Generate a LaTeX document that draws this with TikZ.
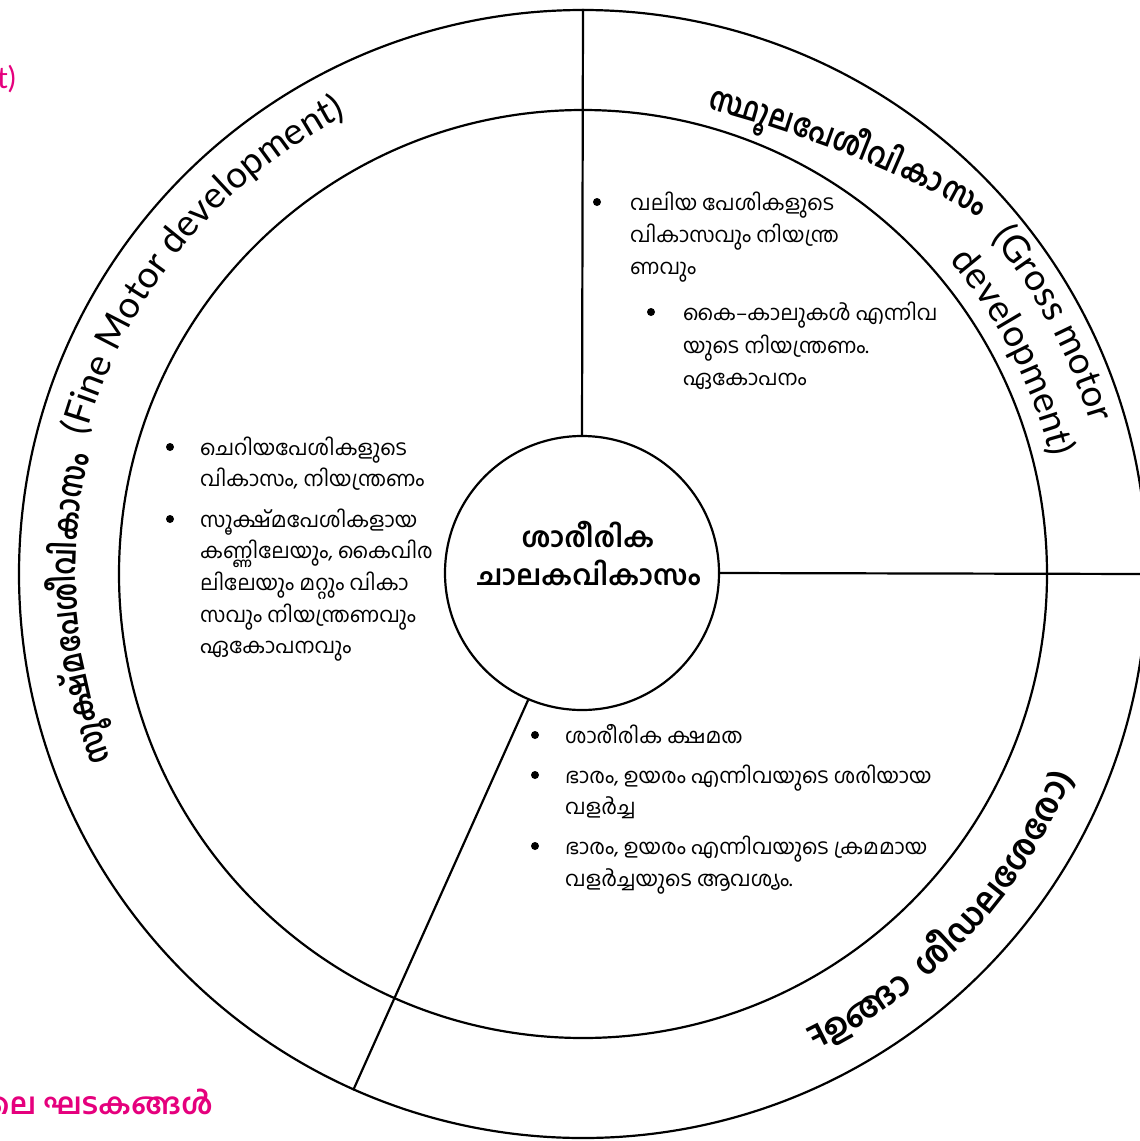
\documentclass[tikz,border=0pt]{standalone}
\usepackage{graphicx}
\usepackage{fontspec}
\setmainfont{Lato}
\newfontfamily\ml[Script=Malayalam]{Hind Kochi}
\newfontfamily\en{Lato}
\definecolor{pinkc}{HTML}{E5007D}
\newdimen\chw
\newbox\chbox
\newcount\acn
\newcount\acg
\usetikzlibrary{calc}
% #1 radius, #2 start angle, #3 dir (+1 ccw, -1 cw), #4 font, #5 name prefix, #6 x-scale, #7 radial drift (pt per deg^2)
\newcommand\ArcSet[7]{%
  \pgfmathsetmacro\arcstart{#2}%
  \xdef\arcstart{\arcstart}%
  \xdef\arcang{\arcstart}%
  \gdef\curR{#1}\gdef\curD{#3}\gdef\curF{#4}\gdef\curN{#5}\gdef\curS{#6}\gdef\curG{#7}\global\acn=0
}
% measuring pass (outside the picture)
\newcommand\ACm[1]{%
  \global\advance\acg by 1
  \setbox\chbox\hbox{\scalebox{\curS}[1]{\curF #1}}%
  \expandafter\xdef\csname acw\the\acg\endcsname{\the\wd\chbox}%
}
% drawing pass (inside the picture)
\newcommand\ACd[1]{%
  \global\advance\acg by 1
  \global\advance\acn by 1
  \global\chw=\csname acw\the\acg\endcsname\relax
  \pgfmathsetmacro\dd{abs(\arcang-\arcstart)}%
  \pgfmathsetmacro\rr{\curR+\curG*\dd*\dd}%
  \pgfmathsetmacro\halfa{\chw/(2*\rr)*180/pi}%
  \pgfmathsetmacro\mida{\arcang+(\curD)*\halfa}%
  \pgfmathsetmacro\dd{abs(\mida-\arcstart)}%
  \pgfmathsetmacro\rr{\curR+\curG*\dd*\dd}%
  \pgfmathsetmacro\ss{2*\curG*\dd*180/pi}%
  \pgfmathsetmacro\rot{\mida+(\curD)*(90-atan(\ss/\rr))}%
  \node[anchor=base,inner sep=0pt,rotate=\rot] (\curN-\the\acn) at ($(C)+(\mida:\rr)$) {\scalebox{\curS}[1]{\curF #1}};
  \pgfmathsetmacro\nexta{\arcang+(\curD)*2*\halfa}%
  \xdef\arcang{\nexta}%
}
\newcommand\AllArcs{%
  \ArcSet{482}{75}{-1}{\ml\bfseries\fontsize{33}{40}\selectfont}{th}{0.82}{0.047}%
  \AC{സ്ഥൂ}\AC{ല}\AC{പേ}\AC{ശീ}\AC{വി}\AC{കാ}\AC{സം}%
  \ArcSet{529}{39.5}{-1}{\en\fontsize{37}{44}\selectfont}{tg}{1}{0}%
  \AC{(}\AC{G}\AC{r}\AC{o}\AC{s}\AC{s}\AC{~}\AC{m}\AC{o}\AC{t}\AC{o}\AC{r}%
  \ArcSet{482}{40.5}{-1}{\en\fontsize{37}{44}\selectfont}{td}{1}{0}%
  \AC{d}\AC{e}\AC{v}\AC{e}\AC{l}\AC{o}\AC{p}\AC{m}\AC{e}\AC{n}\AC{t}\AC{)}%
  \ArcSet{507}{201.5}{-1}{\ml\bfseries\fontsize{33}{40}\selectfont}{lm}{0.8}{0}%
  \AC{സൂ}\AC{ക്ഷ്മ}\AC{പേ}\AC{ശീ}\AC{വി}\AC{കാ}\AC{സം}%
  \ArcSet{516}{164.5}{-1}{\en\fontsize{37}{44}\selectfont}{le}{1}{0}%
  \AC{(}\AC{F}\AC{i}\AC{n}\AC{e}\AC{~}\AC{M}\AC{o}\AC{t}\AC{o}\AC{r}\AC{~}\AC{d}\AC{e}\AC{v}\AC{e}\AC{l}\AC{o}\AC{p}\AC{m}\AC{e}\AC{n}\AC{t}\AC{)}%
  \ArcSet{530}{-64}{1}{\ml\bfseries\fontsize{34}{40}\selectfont}{br}{1}{0}%
  \AC{\reflectbox{F}}\AC{ഉ}\AC{ങ്ങാ}\AC{~}\AC{~}\AC{ശീ}\AC{ഡ}\AC{ല}\AC{ശേ}\AC{രോ}\AC{)}%
}
\tikzset{
  body/.style={anchor=base west,inner sep=0pt,font=\ml\fontsize{21}{30}\selectfont},
  bul/.style={circle,fill=black,inner sep=0pt,minimum size=8pt},
  ring/.style={circle,draw=black,line width=2.2pt,inner sep=0pt},
  ctr/.style={anchor=base,inner sep=0pt,font=\ml\bfseries\fontsize{28}{34}\selectfont},
}
\newcommand\Lx[4]{\node[body] (#1) at (#2,{-(#3)-8}) {#4};}
\begin{document}
\global\acg=0 \let\AC\ACm \AllArcs
\global\acg=0 \let\AC\ACd
\begin{tikzpicture}[x=1pt,y=1pt]
\useasboundingbox (0,0) rectangle (1140,-1141);
\clip (0,0) rectangle (1140,-1141);
\coordinate (C) at (583,-574);
\node[ring,minimum size=1128pt] (outer) at (C) {};
\node[ring,minimum size=928pt] (inner) at (C) {};
\node[ring,minimum size=274pt] (sc) at (582,-573) {};
\draw[line width=2.2pt] (sc.north) -- (outer.north);
\draw[line width=2.2pt] (sc.east) -- (outer.east);
\draw[line width=2.2pt] (sc.247) -- (outer.246.3);
% centre
\node[ctr] (c1) at (588,-547) {ശാരീരിക};
\node[ctr] (c2) at (589,-585) {ചാലകവികാസം};
% top-right block
\node[bul] (b1) at (597,-202) {};
\Lx{t1}{630}{202}{വലിയ പേശികളുടെ}
\Lx{t2}{630}{234}{വികാസവും നിയന്ത്ര}
\Lx{t3}{630}{266}{ണവും}
\node[bul] (b2) at (651,-312) {};
\Lx{t4}{683}{312}{കൈ–കാലുകൾ എന്നിവ}
\Lx{t5}{683}{345}{യുടെ നിയന്ത്രണം.}
\Lx{t6}{683}{377}{ഏകോപനം}
% left block
\node[bul] (b3) at (170,-447) {};
\Lx{l1}{200}{447}{ചെറിയപേശികളുടെ}
\Lx{l2}{200}{478}{വികാസം, നിയന്ത്രണം}
\node[bul] (b4) at (170,-519) {};
\Lx{l3}{200}{519}{സൂക്ഷ്മപേശികളായ}
\Lx{l4}{200}{550}{കണ്ണിലേയും, കൈവിര}
\Lx{l5}{200}{582}{ലിലേയും മറ്റും വികാ}
\Lx{l6}{200}{614}{സവും നിയന്ത്രണവും}
\Lx{l7}{200}{645}{ഏകോപനവും}
% bottom block
\node[bul] (b5) at (535,-735) {};
\Lx{m1}{565}{735}{ശാരീരിക ക്ഷമത}
\node[bul] (b6) at (535,-775) {};
\Lx{m2}{565}{775}{ഭാരം, ഉയരം എന്നിവയുടെ ശരിയായ}
\Lx{m3}{565}{806}{വളർച്ച}
\node[bul] (b7) at (535,-846) {};
\Lx{m4}{565}{846}{ഭാരം, ഉയരം എന്നിവയുടെ ക്രമമായ}
\Lx{m5}{565}{878}{വളർച്ചയുടെ ആവശ്യം.}
% arc headings
\AllArcs
% clipped pink fragments
\node[anchor=base east,inner sep=0pt,text=pinkc,font=\en\fontsize{30}{36}\selectfont] (pk1) at (16,-88) {t)};
\node[anchor=base east,inner sep=0pt,text=pinkc,font=\ml\bfseries\fontsize{29.5}{34}\selectfont] (pk2) at (213,-1114) {ലെ ഘടകങ്ങൾ};
\end{tikzpicture}
\end{document}
